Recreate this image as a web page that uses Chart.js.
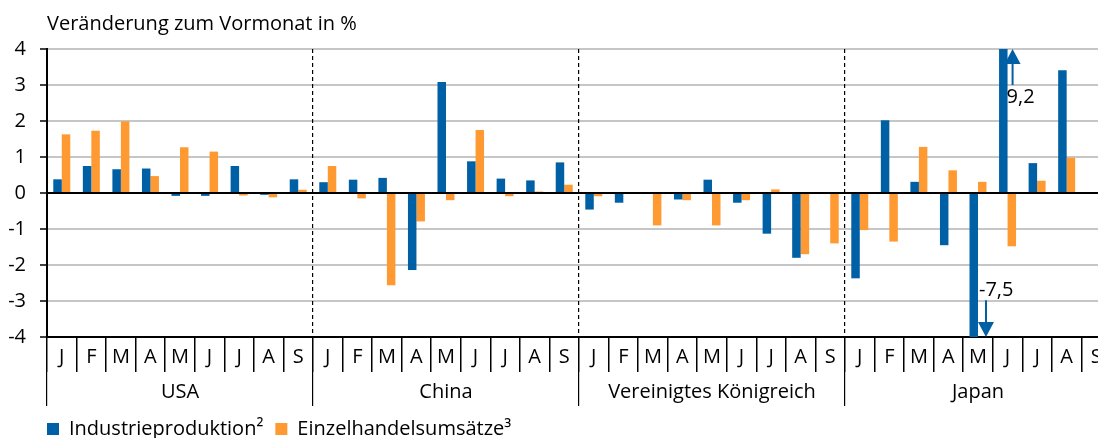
<!DOCTYPE html>
<html lang="de">
<head>
<meta charset="utf-8">
<script src="https://cdn.jsdelivr.net/npm/chart.js@4/dist/chart.umd.min.js"></script>
<style>
  html, body { margin: 0; padding: 0; background: #fff; overflow: hidden; }
  #wrap { position: relative; width: 1111px; height: 438px; }
</style>
</head>
<body>
<div id="wrap"><canvas id="chart"></canvas></div>
<script>
// Daten: Veränderung zum Vormonat in %
const regionen = ['USA', 'China', 'Vereinigtes Königreich', 'Japan'];
const monate = ['J', 'F', 'M', 'A', 'M', 'J', 'J', 'A', 'S'];

// Industrieproduktion (USA, China, UK, Japan – je Jan bis Sep)
const industrie = [
  0.38, 0.75, 0.66, 0.68, -0.08, -0.08, 0.75, -0.05, 0.38,
  0.30, 0.37, 0.42, -2.14, 3.08, 0.88, 0.40, 0.35, 0.85,
  -0.46, -0.27, 0.0, -0.18, 0.37, -0.27, -1.13, -1.80, 0.0,
  -2.37, 2.02, 0.31, -1.45, -7.5, 9.2, 0.83, 3.41, null
];
// Einzelhandelsumsätze
const einzelhandel = [
  1.63, 1.73, 1.99, 0.47, 1.27, 1.15, -0.07, -0.12, 0.09,
  0.75, -0.15, -2.56, -0.79, -0.20, 1.75, -0.09, 0.04, 0.23,
  -0.09, 0.0, -0.90, -0.20, -0.90, -0.20, 0.10, -1.70, -1.40,
  -1.03, -1.35, 1.28, 0.63, 0.31, -1.48, 0.34, 0.98, null
];

const blau = '#0060a6';
const orange = '#ff9a33';
const schrift = 'Open Sans';

// Kategorien: je Region die Monate
let labels = [];
regionen.forEach(r => monate.forEach(m => labels.push(m)));

// Pfeile für Werte außerhalb der Skala
const pfeile = {
  id: 'pfeile',
  afterLayout(chart) {
    // Legende bündig mit der Achse
    chart.legend.left = chart.chartArea.left - chart.legend.options.labels.padding;
  },
  afterDatasetsDraw(chart) {
    const ctx = chart.ctx;
    const x = chart.scales.x;
    const y = chart.scales.y;
    const breite = x.width / labels.length;
    ctx.save();
    ctx.fillStyle = blau;
    ctx.strokeStyle = blau;
    ctx.lineWidth = 2;
    industrie.forEach((v, i) => {
      if (v === null || (v <= y.max && v >= y.min)) return;
      let hoch = v > y.max;
      let px = x.getPixelForValue(i) + breite * (hoch ? 0.17 : 0.27);
      let spitze = y.getPixelForValue(hoch ? y.max : y.min);
      let dir = hoch ? 1 : -1;
      let start = y.getPixelForValue(hoch ? y.max - 1 : y.min + 1.02);
      // Schaft
      ctx.beginPath();
      ctx.moveTo(px, start);
      ctx.lineTo(px, spitze + dir * 14);
      ctx.stroke();
      // Spitze
      ctx.beginPath();
      ctx.moveTo(px, spitze);
      ctx.lineTo(px - 8, spitze + dir * 15);
      ctx.lineTo(px + 8, spitze + dir * 15);
      ctx.closePath();
      ctx.fill();
      // Beschriftung
      ctx.fillStyle = '#000';
      ctx.font = '20px "' + schrift + '"';
      ctx.textAlign = 'left';
      ctx.textBaseline = 'middle';
      let ty = y.getPixelForValue(hoch ? y.max - 1.33 : y.min + 1.3);
      ctx.fillText(v.toFixed(1).replace('.', ','), px - (hoch ? 6 : 7), ty);
      ctx.fillStyle = blau;
    });
    ctx.restore();
  }
};

let canvas = document.getElementById('chart');
let chart = new Chart(canvas, {
  type: 'bar',
  data: {
    labels: labels,
    datasets: [
      {
        label: 'Industrieproduktion²',
        data: industrie,
        backgroundColor: blau,
        categoryPercentage: 0.575,
        barPercentage: 1
      },
      {
        label: 'Einzelhandelsumsätze³',
        data: einzelhandel,
        backgroundColor: orange,
        categoryPercentage: 0.575,
        barPercentage: 1
      }
    ]
  },
  options: {
    responsive: true,
    maintainAspectRatio: false,
    animation: false,
    layout: { padding: { left: 0, right: 0, top: 0, bottom: -11 } },
    plugins: {
      tooltip: { enabled: false },
      title: {
        display: true,
        text: 'Veränderung zum Vormonat in %',
        align: 'start',
        fullSize: false,
        color: '#000',
        font: { family: schrift, size: 20, weight: 'normal' },
        padding: { top: 12, bottom: 13 }
      },
      legend: {
        position: 'bottom',
        align: 'start',
        labels: {
          boxWidth: 12,
          boxHeight: 12,
          padding: 12,
          color: '#000',
          font: { family: schrift, size: 20 }
        }
      }
    },
    scales: {
      y: {
        min: -4,
        max: 4,
        ticks: {
          stepSize: 1,
          padding: 14,
          color: '#000',
          font: { family: schrift, size: 20 }
        },
        grid: {
          color: c => c.tick.value === 0 ? '#000' : '#c6c6c6',
          lineWidth: 2,
          tickColor: '#000',
          tickLength: 7,
          tickWidth: 1.5
        },
        border: { display: true, color: '#000', width: 2 },
        afterFit: s => { s.width = 47; }
      },
      x: {
        weight: 1,
        offset: true,
        ticks: {
          autoSkip: false,
          maxRotation: 0,
          padding: -27,
          color: '#000',
          font: { family: schrift, size: 20 }
        },
        grid: {
          offset: true,
          drawOnChartArea: false,
          color: '#000',
          lineWidth: 1.5,
          tickLength: 35
        },
        border: { display: true, color: '#000', width: 2 },
        afterFit: s => { s.height = 35; }
      },
      x2: {
        type: 'category',
        labels: regionen,
        position: 'bottom',
        weight: 2,
        offset: true,
        ticks: {
          autoSkip: false,
          maxRotation: 0,
          padding: -26,
          color: '#000',
          font: { family: schrift, size: 20 }
        },
        grid: {
          offset: true,
          drawOnChartArea: true,
          color: '#000',
          lineWidth: 1.2,
          tickLength: 34
        },
        border: { display: false, dash: [4, 3] },
        afterFit: s => { s.height = 35; }
      }
    }
  },
  plugins: [pfeile]
});
</script>
</body>
</html>
